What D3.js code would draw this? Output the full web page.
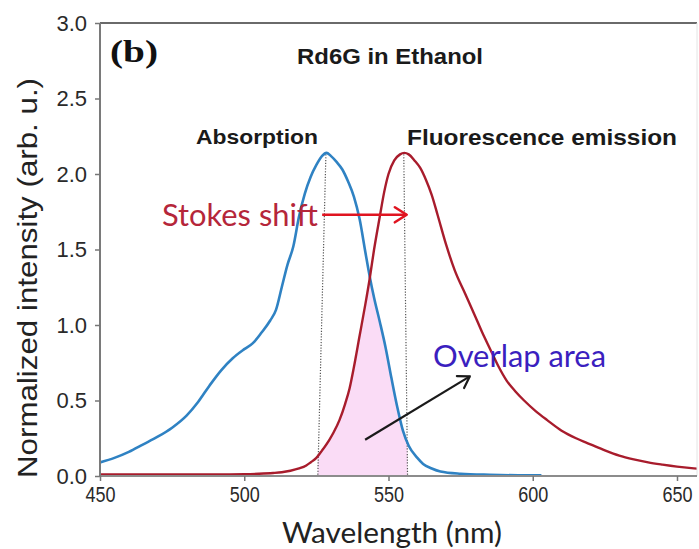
<!DOCTYPE html>
<html><head><meta charset="utf-8">
<script src="https://cdn.jsdelivr.net/npm/d3@7"></script>
<style>body{margin:0;background:#fff;} svg{display:block;}</style>
</head><body><svg id="c" width="699" height="549"></svg>
<script>
// ---- data ----
const absorptionNm  = [450,455,460,465,470,475,480,484,488,492,496,500,503,506,509,511,513,515,517,519,521,523,525,527,528.5,530,532,534,536,538,540,542,543.5,545,547,549,551,553,555,557,560,562,565,568,575,585,595,603];
const absorptionVal = [0.09,0.12,0.16,0.21,0.26,0.32,0.40,0.49,0.60,0.70,0.78,0.84,0.88,0.95,1.03,1.10,1.25,1.40,1.52,1.72,1.87,1.98,2.06,2.12,2.14,2.12,2.08,2.03,1.95,1.85,1.70,1.48,1.32,1.18,1.02,0.85,0.65,0.46,0.30,0.20,0.12,0.08,0.05,0.03,0.015,0.008,0.005,0.005];
const emissionNm  = [450,470,490,500,505,510,513,516,519,521.5,523,525,527,529.5,531,533,535,536.5,538,540,542,543.5,545,547,548.5,550,552,554,555.5,557,559,561,563,565,567,570,573,576.5,580,582.5,585,588,591,594,597,601,605,610,615,620,625,630,635,640,645,650,655,660];
const emissionVal = [0.01,0.01,0.01,0.012,0.015,0.02,0.025,0.035,0.05,0.07,0.09,0.12,0.17,0.24,0.29,0.37,0.48,0.58,0.72,0.93,1.14,1.31,1.50,1.72,1.88,2.00,2.09,2.13,2.14,2.13,2.09,2.04,1.96,1.86,1.73,1.53,1.36,1.21,1.06,0.95,0.85,0.73,0.63,0.56,0.50,0.43,0.37,0.30,0.25,0.21,0.17,0.135,0.11,0.09,0.075,0.062,0.052,0.045];
const xTicks = [450,500,550,600,650];
const yTicks = [0,0.5,1.0,1.5,2.0,2.5,3.0];
const absPeakLine = [[528.3,2.13],[525.5,0]];
const emPeakLine  = [[555.3,2.13],[556.6,0]];
const overlapRange = [525.5,556.6];
const stokesArrow = [[527,1.73],[556.3,1.73]];
const overlapArrow = [[541.9,0.24],[578.2,0.66]];
const texts = {
  panel: "(b)", title: "Rd6G in Ethanol", abs: "Absorption", em: "Fluorescence emission",
  stokes: "Stokes shift", overlap: "Overlap area",
  xLabel: "Wavelength (nm)", yLabel: "Normalized intensity (arb. u.)"
};

// ---- drawing ----
const svg = d3.select("#c");
const x = d3.scaleLinear().domain([450,650]).range([100,677]);
const y = d3.scaleLinear().domain([0,3]).range([476,23]);
const rightEdge = 697;

svg.append("defs").append("clipPath").attr("id","clip")
  .append("rect").attr("x",100).attr("y",23).attr("width",rightEdge-100).attr("height",453);

const absData = absorptionNm.map((d,i)=>[d,absorptionVal[i]]);
const emData  = emissionNm.map((d,i)=>[d,emissionVal[i]]);

function interp(nmArr, valArr, v){
  if (v<=nmArr[0]) return valArr[0];
  if (v>=nmArr[nmArr.length-1]) return valArr[valArr.length-1];
  const i = d3.bisectRight(nmArr, v);
  const t = (v-nmArr[i-1])/(nmArr[i]-nmArr[i-1]);
  return valArr[i-1] + t*(valArr[i]-valArr[i-1]);
}
const grid = Array.from(new Set([overlapRange[0], ...absorptionNm, ...emissionNm, overlapRange[1]]))
  .filter(v=>v>=overlapRange[0] && v<=overlapRange[1]).sort((a,b)=>a-b);
const overlapData = grid.map(v=>[v, Math.min(interp(absorptionNm,absorptionVal,v), interp(emissionNm,emissionVal,v))]);

const g = svg.append("g").attr("clip-path","url(#clip)");
g.append("path").datum(overlapData)
  .attr("d", d3.area().x(d=>x(d[0])).y0(y(0)).y1(d=>y(d[1])))
  .attr("fill","#fadcf6");

// dotted peak lines
[absPeakLine, emPeakLine].forEach(l=>{
  g.append("line").attr("x1",x(l[0][0])).attr("y1",y(l[0][1])).attr("x2",x(l[1][0])).attr("y2",y(l[1][1]))
   .attr("stroke","#555").attr("stroke-width",1.2).attr("stroke-dasharray","1.2,1.6");
});

const line = d3.line().x(d=>x(d[0])).y(d=>y(d[1])).curve(d3.curveMonotoneX);
g.append("path").datum(absData).attr("d",line).attr("fill","none").attr("stroke","#2f82c3").attr("stroke-width",2.6);
g.append("path").datum(emData).attr("d",line).attr("fill","none").attr("stroke","#a81c2c").attr("stroke-width",2.4);

// frame
svg.append("line").attr("x1",100).attr("x2",rightEdge).attr("y1",23).attr("y2",23).attr("stroke","#6a6a6a").attr("stroke-width",2);
svg.append("line").attr("x1",rightEdge).attr("x2",rightEdge).attr("y1",23).attr("y2",476).attr("stroke","#e4e4e4").attr("stroke-width",1);
svg.append("line").attr("x1",100).attr("x2",rightEdge).attr("y1",476).attr("y2",476).attr("stroke","#8c8c8c").attr("stroke-width",2);
svg.append("line").attr("x1",100).attr("x2",100).attr("y1",23).attr("y2",476).attr("stroke","#7a7a7a").attr("stroke-width",2);

const yAxis = svg.append("g").attr("transform","translate(100,0)")
  .call(d3.axisLeft(y).tickValues(yTicks).tickFormat(d3.format(".1f")).tickSize(5).tickPadding(8));
const xAxis = svg.append("g").attr("transform","translate(0,476)")
  .call(d3.axisBottom(x).tickValues(xTicks).tickFormat(d3.format("d")).tickSize(5).tickPadding(5));
[yAxis,xAxis].forEach(a=>{
  a.attr("font-size",null).attr("font-family",null);
  a.select(".domain").remove();
  a.selectAll(".tick line").attr("stroke","#777").attr("stroke-width",1.5);
  a.selectAll(".tick text").attr("fill","#2a2a2a")
    .attr("font-family","'Liberation Sans', Arial, sans-serif").attr("font-size",22)
    .style("font-family","'Liberation Sans', Arial, sans-serif").style("font-size","22px");
});
xAxis.selectAll(".tick text").attr("transform","scale(0.82,1)")
  .attr("x", d=>x(d)*(1/0.82-1)*0); // keep centred under tick via scaling about the tick origin

// arrows
function arrow(pts, color, width, head){
  const [p0,p1] = pts;
  const x0=x(p0[0]), y0=y(p0[1]), x1=x(p1[0]), y1=y(p1[1]);
  const ang = Math.atan2(y1-y0, x1-x0);
  svg.append("line").attr("x1",x0).attr("y1",y0).attr("x2",x1).attr("y2",y1)
    .attr("stroke",color).attr("stroke-width",width);
  const a1 = ang + Math.PI*0.82, a2 = ang - Math.PI*0.82;
  svg.append("path")
    .attr("d",`M${x1+head*Math.cos(a1)},${y1+head*Math.sin(a1)} L${x1},${y1} L${x1+head*Math.cos(a2)},${y1+head*Math.sin(a2)}`)
    .attr("fill","none").attr("stroke",color).attr("stroke-width",width).attr("stroke-linecap","round").attr("stroke-linejoin","round");
}
arrow(stokesArrow, "#e01420", 2.6, 14);
arrow(overlapArrow, "#1a1a1a", 2.2, 13);

// texts
function txt(s, xp, yp, opts){
  const t = svg.append("text").attr("x",xp).attr("y",yp).text(s)
    .style("font-family",opts.family).style("font-size",opts.size+"px")
    .style("font-weight",opts.weight||"normal").attr("fill",opts.color||"#111");
  if (opts.len) t.attr("textLength",opts.len).attr("lengthAdjust","spacingAndGlyphs");
  if (opts.anchor) t.attr("text-anchor",opts.anchor);
  if (opts.transform) t.attr("transform",opts.transform);
  return t;
}
const sans = "'Liberation Sans', Arial, sans-serif";
const hum = "Lato, 'Open Sans', sans-serif";
txt(texts.panel, 110, 62, {family:"'Liberation Serif', 'Times New Roman', serif", size:31, weight:"bold", len:48, color:"#111"});
txt(texts.title, 297, 64, {family:sans, size:22, weight:"bold", len:186, color:"#1a1a1a"});
txt(texts.abs, 196, 144, {family:sans, size:21, weight:"bold", len:122, color:"#1a1a1a"});
txt(texts.em, 407, 145, {family:sans, size:22, weight:"bold", len:270, color:"#1a1a1a"});
txt(texts.stokes, 162, 226, {family:hum, size:30, len:156, color:"#b5263a"});
txt(texts.overlap, 433, 367, {family:hum, size:30, len:173, color:"#3b1fbf"});
txt(texts.xLabel, 282, 543, {family:hum, size:29, len:220, color:"#222"});
txt(texts.yLabel, 0, 0, {family:sans, size:28, len:400, color:"#222", anchor:"middle", transform:"translate(37,278) rotate(-90)"});
</script>
</body></html>
